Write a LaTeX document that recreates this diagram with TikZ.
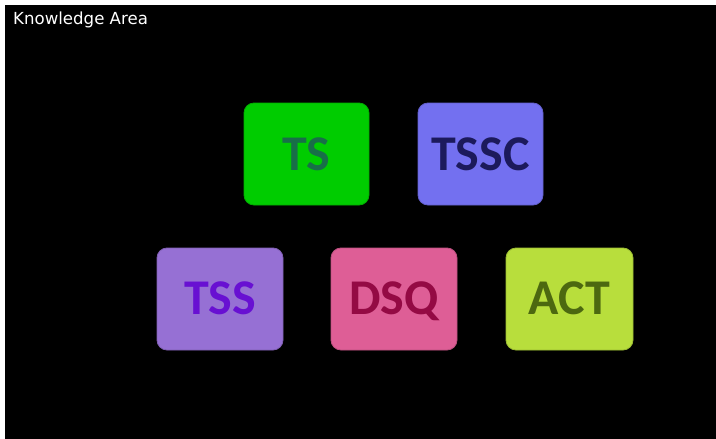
\documentclass[tikz,border=0pt]{standalone}
\usepackage{fontspec}
\setmainfont{Carlito}
\newfontfamily\labelfont{DejaVu Sans}
\begin{document}
\begin{tikzpicture}[x=1pt,y=-1pt,
  kbox/.style={rounded corners=10pt,line width=0.8pt},
  ktext/.style={font=\fontsize{50}{50}\selectfont\bfseries,anchor=base,inner sep=0pt}]
\useasboundingbox (0,0) rectangle (716,439);
\fill[black] (-5,-5) rectangle (721,444);
\fill[white] (-5,-5) rectangle (721,5);
\fill[white] (-5,-5) rectangle (5,444);
\node[anchor=base west,text=white,font=\labelfont\fontsize{16.6}{17}\selectfont,inner sep=0pt] (title) at (13,24) {Knowledge Area};
\definecolor{tsfill}{RGB}{0,204,0}\definecolor{tstext}{RGB}{24,110,72}
\definecolor{tsscfill}{RGB}{115,112,240}\definecolor{tssctext}{RGB}{28,26,92}
\definecolor{tssfill}{RGB}{150,112,212}\definecolor{tsstext}{RGB}{104,16,210}
\definecolor{dsqfill}{RGB}{222,94,150}\definecolor{dsqtext}{RGB}{148,10,68}
\definecolor{actfill}{RGB}{184,222,60}\definecolor{acttext}{RGB}{76,104,16}
\draw[kbox,fill=tsfill,draw=tsfill!85!black] (244,103) rectangle (369,205);
\node[ktext,text=tstext] (ts) at (306.5,170) {TS};
\draw[kbox,fill=tsscfill,draw=tsscfill!85!black] (418,103) rectangle (543,205);
\node[ktext,text=tssctext] (tssc) at (480.5,170) {TSSC};
\draw[kbox,fill=tssfill,draw=tssfill!85!black] (157,248) rectangle (283,350);
\node[ktext,text=tsstext] (tss) at (220,314) {TSS};
\draw[kbox,fill=dsqfill,draw=dsqfill!85!black] (331,248) rectangle (457,350);
\node[ktext,text=dsqtext] (dsq) at (394,314) {DSQ};
\draw[kbox,fill=actfill,draw=actfill!85!black] (506,248) rectangle (633,350);
\node[ktext,text=acttext] (act) at (569.5,314) {ACT};
\end{tikzpicture}
\end{document}
